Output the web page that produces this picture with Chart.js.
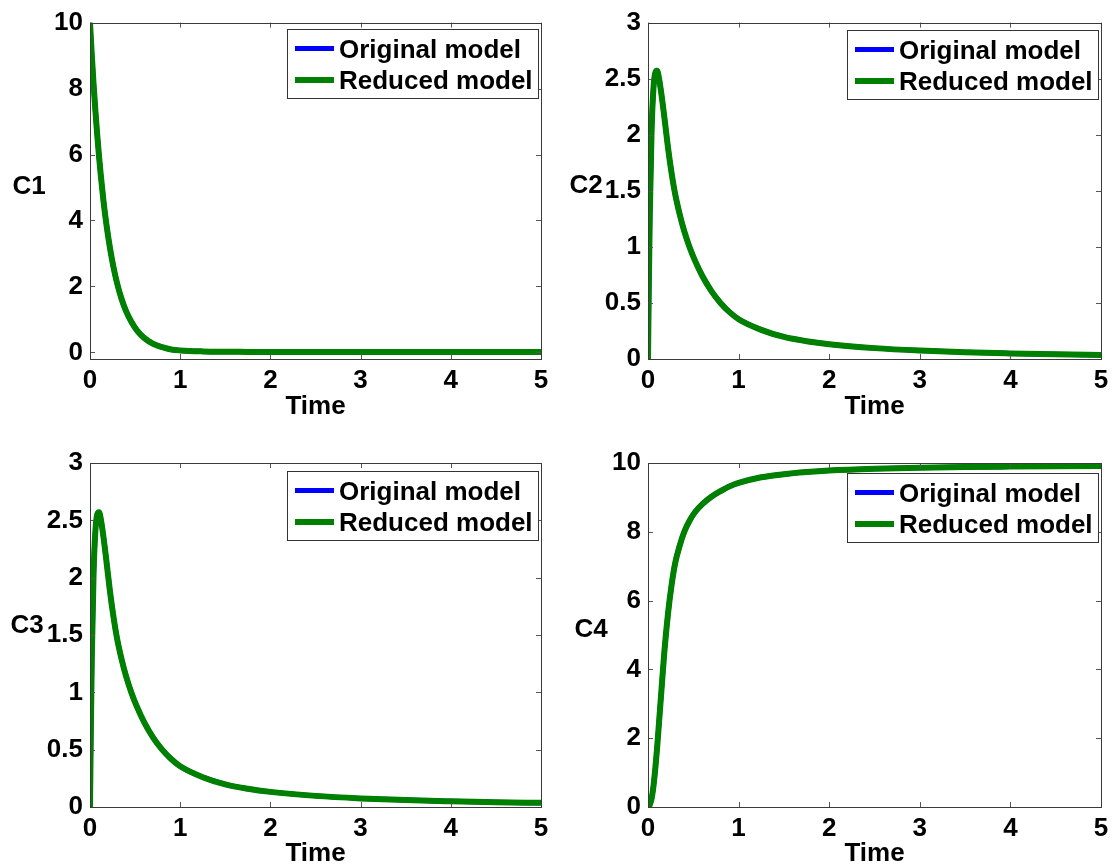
<!DOCTYPE html>
<html>
<head>
<meta charset="utf-8">
<title>C1-C4 original vs reduced model</title>
<script src="https://cdn.jsdelivr.net/npm/chart.js@4.4.1/dist/chart.umd.min.js"></script>
<style>
    html, body { margin: 0; padding: 0; background: #fff; }
    #wrap { position: relative; width: 1118px; height: 867px; overflow: hidden; }
    .panel { position: absolute; }
</style>
</head>
<body>
<div id="wrap">
    <div class="panel" style="left:0;top:0;width:559px;height:433px"><canvas id="chartC1"></canvas></div>
    <div class="panel" style="left:559px;top:0;width:559px;height:433px"><canvas id="chartC2"></canvas></div>
    <div class="panel" style="left:0;top:433px;width:559px;height:434px"><canvas id="chartC3"></canvas></div>
    <div class="panel" style="left:559px;top:433px;width:559px;height:434px"><canvas id="chartC4"></canvas></div>
</div>
<script>
// 时间点（横轴）
const timePoints = [0, 0.01, 0.02, 0.04, 0.06, 0.08, 0.1, 0.12, 0.15, 0.18, 0.22, 0.26, 0.3, 0.35, 0.4, 0.46,
    0.52, 0.6, 0.7, 0.8, 0.9, 1.0, 1.25, 1.5, 1.75, 2, 2.5, 3, 3.5, 4, 4.5, 5];

// 各浓度曲线（原模型与简化模型重合）
const c1Values = [10, 9.49, 9.01, 8.12, 7.32, 6.60, 5.95, 5.36, 4.58, 3.92, 3.19, 2.59, 2.10, 1.62, 1.25, 0.92,
    0.67, 0.44, 0.26, 0.16, 0.09, 0.06, 0.03, 0.02, 0.015, 0.01, 0.01, 0.01, 0.01, 0.01, 0.01, 0.01];
const c2Values = [0, 0.7, 1.3, 2.05, 2.41, 2.55, 2.57, 2.51, 2.35, 2.16, 1.89, 1.66, 1.47, 1.29, 1.14, 0.995,
    0.875, 0.74, 0.605, 0.50, 0.418, 0.355, 0.26, 0.197, 0.159, 0.132, 0.097, 0.075, 0.060, 0.050, 0.042, 0.036];
const c3Values = [0, 0.7, 1.3, 2.05, 2.41, 2.55, 2.57, 2.51, 2.35, 2.16, 1.89, 1.66, 1.47, 1.29, 1.14, 0.995,
    0.875, 0.74, 0.605, 0.50, 0.418, 0.355, 0.26, 0.197, 0.159, 0.132, 0.097, 0.075, 0.060, 0.050, 0.042, 0.036];
const c4Values = [0, 0.02, 0.07, 0.25, 0.6, 1.1, 1.7, 2.4, 3.45, 4.5, 5.6, 6.45, 7.09, 7.6, 8.0, 8.33,
    8.575, 8.805, 9.02, 9.18, 9.32, 9.42, 9.584, 9.676, 9.738, 9.783, 9.835, 9.865, 9.883, 9.895, 9.905, 9.913];

// 刻度
const xTicks = [0, 1, 2, 3, 4, 5];
const yTicksC1 = [0, 2, 4, 6, 8, 10];
const yTicksC2 = [0, 0.5, 1, 1.5, 2, 2.5, 3];
const yTicksC4 = [0, 2, 4, 6, 8, 10];

const seriesLabels = ['Original model', 'Reduced model'];
const axisLabelX = 'Time';

const FONT_FAMILY = '"Liberation Sans", Arial, Helvetica, sans-serif';
const CAP = 26 * 0.716 / 2;

// MATLAB 风格：边框、内刻度、图例、坐标轴标签
const matlabFrame = {
    id: 'matlabFrame',
    afterDraw(chart, args, o) {
        const ctx = chart.ctx;
        const a = chart.chartArea;
        const xs = chart.scales.x;
        const ys = chart.scales.y;
        ctx.save();

        // 刻度线（四边朝内）
        ctx.strokeStyle = '#555';
        ctx.lineWidth = 1;
        ctx.beginPath();
        xs.ticks.forEach(t => {
            const px = Math.round(xs.getPixelForValue(t.value)) + 0.5;
            ctx.moveTo(px, a.bottom); ctx.lineTo(px, a.bottom - 5);
            ctx.moveTo(px, a.top); ctx.lineTo(px, a.top + 5);
        });
        ys.ticks.forEach(t => {
            const py = Math.round(ys.getPixelForValue(t.value)) + 0.5;
            ctx.moveTo(a.left, py); ctx.lineTo(a.left + 5, py);
            ctx.moveTo(a.right, py); ctx.lineTo(a.right - 5, py);
        });
        ctx.stroke();

        // 边框
        ctx.strokeStyle = '#3a3a3a';
        ctx.strokeRect(Math.round(a.left) + 0.5, Math.round(a.top) + 0.5,
            Math.round(a.right - a.left), Math.round(a.bottom - a.top));

        // 坐标轴标签
        ctx.fillStyle = '#000';
        ctx.font = 'bold 26px ' + FONT_FAMILY;
        ctx.textAlign = 'center';
        ctx.textBaseline = 'alphabetic';
        ctx.fillText(axisLabelX, (a.left + a.right) / 2, a.bottom + o.timeDy + CAP);
        ctx.fillText(o.yLabel, a.left - o.yLabelDx, (a.top + a.bottom) / 2 + o.yLabelDy + CAP);

        // 图例
        const w = 251, h = 69;
        const lx = Math.round(a.right - 3 - w);
        const ly = Math.round(a.top + o.legendTop);
        ctx.fillStyle = '#fff';
        ctx.fillRect(lx, ly, w, h);
        ctx.strokeStyle = '#333';
        ctx.lineWidth = 1;
        ctx.strokeRect(lx + 0.5, ly + 0.5, w, h);
        const rows = [19.5, 51];
        ctx.textAlign = 'left';
        chart.data.datasets.forEach((ds, i) => {
            const cy = ly + rows[i];
            ctx.strokeStyle = ds.borderColor;
            ctx.lineWidth = ds.borderWidth;
            ctx.beginPath();
            ctx.moveTo(lx + 8, cy);
            ctx.lineTo(lx + 47, cy);
            ctx.stroke();
            ctx.fillStyle = '#000';
            ctx.fillText(ds.label, lx + 52, cy + CAP);
        });
        ctx.restore();
    }
};

function buildPoints(values) {
    return values.map((v, i) => ({ x: timePoints[i], y: v }));
}

function makePanel(canvasId, values, yTicks, yMin, yMax, p) {
    const points = buildPoints(values);
    const tickFont = { family: FONT_FAMILY, size: 26, weight: 'bold' };
    return new Chart(document.getElementById(canvasId), {
        type: 'line',
        data: {
            datasets: [
                {
                    label: seriesLabels[0],
                    data: points,
                    borderColor: '#0000ff',
                    borderWidth: 5,
                    pointRadius: 0,
                    borderJoinStyle: 'round',
                    cubicInterpolationMode: 'monotone',
                    order: 1
                },
                {
                    label: seriesLabels[1],
                    data: points,
                    borderColor: '#008000',
                    borderWidth: 6,
                    pointRadius: 0,
                    borderJoinStyle: 'round',
                    cubicInterpolationMode: 'monotone',
                    order: 0
                }
            ]
        },
        options: {
            responsive: true,
            maintainAspectRatio: false,
            animation: false,
            events: [],
            layout: { padding: { top: p.top, right: p.right, left: 0, bottom: 0 } },
            plugins: {
                legend: { display: false },
                tooltip: { enabled: false },
                matlabFrame: p.frame
            },
            scales: {
                x: {
                    type: 'linear',
                    min: 0,
                    max: 5,
                    grid: { display: false, drawTicks: false },
                    border: { display: false },
                    afterBuildTicks: s => { s.ticks = xTicks.map(v => ({ value: v })); },
                    afterFit: s => { s.height = p.xHeight; },
                    ticks: {
                        color: '#000',
                        font: tickFont,
                        padding: 6,
                        maxRotation: 0,
                        autoSkip: false,
                        callback: v => String(v)
                    }
                },
                y: {
                    type: 'linear',
                    min: yMin,
                    max: yMax,
                    grid: { display: false, drawTicks: false },
                    border: { display: false },
                    afterBuildTicks: s => { s.ticks = yTicks.map(v => ({ value: v })); },
                    afterFit: s => { s.width = p.yWidth; },
                    ticks: {
                        color: '#000',
                        font: tickFont,
                        padding: 7,
                        autoSkip: false,
                        callback: v => String(v)
                    }
                }
            }
        },
        plugins: [matlabFrame]
    });
}

makePanel('chartC1', c1Values, yTicksC1, -0.2, 10, {
    top: 18, right: 18, yWidth: 90, xHeight: 74,
    frame: { yLabel: 'C1', yLabelDx: 61, yLabelDy: -6, timeDy: 46, legendTop: 6 }
});
makePanel('chartC2', c2Values, yTicksC2, 0, 3, {
    top: 18, right: 17, yWidth: 89, xHeight: 74,
    frame: { yLabel: 'C2', yLabelDx: 62, yLabelDy: -7, timeDy: 46, legendTop: 7 }
});
makePanel('chartC3', c3Values, yTicksC2, 0, 3, {
    top: 30, right: 18, yWidth: 90, xHeight: 60,
    frame: { yLabel: 'C3', yLabelDx: 63, yLabelDy: -11, timeDy: 44.5, legendTop: 8 }
});
makePanel('chartC4', c4Values, yTicksC4, 0, 10, {
    top: 30, right: 17, yWidth: 89, xHeight: 60,
    frame: { yLabel: 'C4', yLabelDx: 57, yLabelDy: -7, timeDy: 44.5, legendTop: 10 }
});
</script>
</body>
</html>
